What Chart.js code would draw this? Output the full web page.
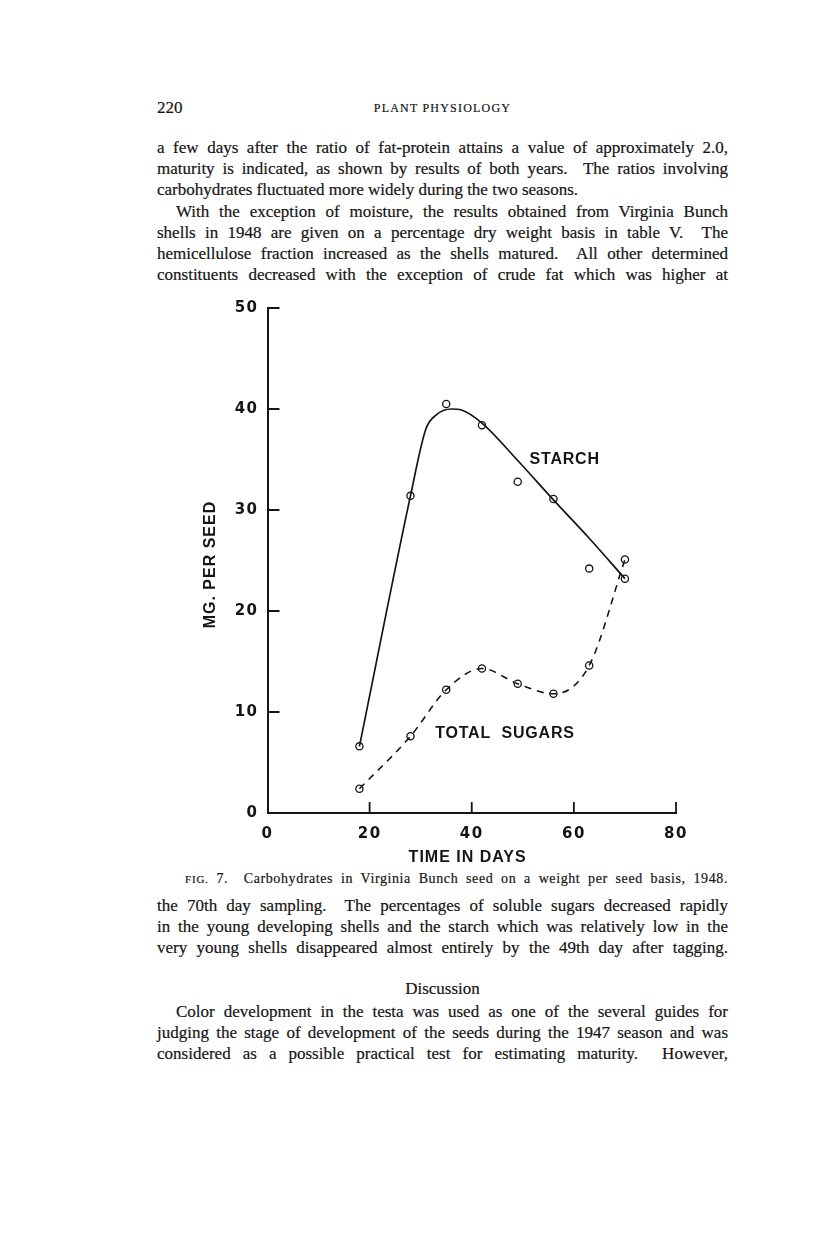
<!DOCTYPE html>
<html>
<head>
<meta charset="utf-8">
<title>Fig. 7 - Carbohydrates in Virginia Bunch seed</title>
<script src="https://cdn.jsdelivr.net/npm/chart.js@4.4.1/dist/chart.umd.min.js"></script>
<style>
  html, body { margin: 0; padding: 0; background: #fff; }
  body {
    width: 816px; height: 1249px; position: relative; overflow: hidden;
    font-family: "Liberation Serif", "DejaVu Serif", serif; color: #151515;
    -webkit-text-stroke: 0.2px #151515;
  }
  .ln {
    position: absolute; left: 157px; width: 571px;
    font-size: 17px; line-height: 21px; white-space: nowrap;
    text-align: justify; text-align-last: justify;
  }
  .ln.last { text-align-last: left; }
  .ln.ind { left: 176px; width: 552px; }
  .folio { position: absolute; left: 157px; top: 97px; font-size: 17px; line-height: 21px; }
  .runhead {
    position: absolute; left: 157px; width: 571px; top: 98px; text-align: center;
    font-size: 12px; letter-spacing: 1.2px; line-height: 21px;
  }
  .caption {
    position: absolute; left: 185px; width: 543px; top: 870px;
    font-size: 14px; letter-spacing: 0.6px; line-height: 18px; white-space: nowrap;
    text-align: justify; text-align-last: justify;
  }
  .sc { font-size: 11px; letter-spacing: 0.8px; }
  .heading { position: absolute; left: 157px; width: 571px; text-align: center; font-size: 17px; line-height: 21px; }
  #chartBox { position: absolute; left: 150px; top: 290px; width: 560px; height: 580px; }
</style>
</head>
<body>

<div class="folio">220</div>
<div class="runhead">PLANT PHYSIOLOGY</div>

<div class="ln" style="top:137px">a few days after the ratio of fat-protein attains a value of approximately 2.0,</div>
<div class="ln" style="top:158px">maturity is indicated, as shown by results of both years.&nbsp; The ratios involving</div>
<div class="ln last" style="top:179px">carbohydrates fluctuated more widely during the two seasons.</div>
<div class="ln ind" style="top:201px">With the exception of moisture, the results obtained from Virginia Bunch</div>
<div class="ln" style="top:222px">shells in 1948 are given on a percentage dry weight basis in table V.&nbsp; The</div>
<div class="ln" style="top:243px">hemicellulose fraction increased as the shells matured.&nbsp; All other determined</div>
<div class="ln" style="top:264px">constituents decreased with the exception of crude fat which was higher at</div>

<div id="chartBox"><canvas id="carbChart"></canvas></div>

<div class="caption"><span class="sc">FIG.</span> 7.&nbsp; Carbohydrates in Virginia Bunch seed on a weight per seed basis, 1948.</div>

<div class="ln" style="top:895px">the 70th day sampling.&nbsp; The percentages of soluble sugars decreased rapidly</div>
<div class="ln" style="top:916px">in the young developing shells and the starch which was relatively low in the</div>
<div class="ln" style="top:937px">very young shells disappeared almost entirely by the 49th day after tagging.</div>
<div class="heading" style="top:978px">Discussion</div>
<div class="ln ind" style="top:1001px">Color development in the testa was used as one of the several guides for</div>
<div class="ln" style="top:1022px">judging the stage of development of the seeds during the 1947 season and was</div>
<div class="ln" style="top:1043px">considered as a possible practical test for estimating maturity.&nbsp; However,</div>

<script>
// ---- data ----
const days = [18, 28, 35, 42, 49, 56, 63, 70];
const starchMg = [6.6, 31.4, 40.5, 38.4, 32.8, 31.1, 24.2, 23.2];
const sugarsMg = [2.4, 7.6, 12.2, 14.3, 12.8, 11.8, 14.6, 25.1];

// the starch line is a hand drawn fit, not point to point
const starchCurveDays = [18, 28, 31, 33, 36, 38, 42, 49, 56, 63, 70];
const starchCurveMg = [6.6, 31.4, 38.0, 39.4, 40.0, 39.9, 38.6, 34.9, 31.0, 27.2, 23.2];

const xTicks = [0, 20, 40, 60, 80];
const yTicks = [0, 10, 20, 30, 40, 50];

const INK = '#151515';
const LETTER_FONT = '"Liberation Sans", "DejaVu Sans", sans-serif';

function pairs(xs, ys) {
  return xs.map(function(x, i) { return { x: x, y: ys[i] }; });
}

// ticks point inward, and the curve labels sit inside the plot
const paperAxes = {
  id: 'paperAxes',
  beforeDraw: function(chart) {
    chart.ctx.letterSpacing = '1.5px';
  },
  afterDraw: function(chart) {
    const ctx = chart.ctx;
    const area = chart.chartArea;
    const xs = chart.scales.x;
    const ys = chart.scales.y;

    ctx.save();
    ctx.strokeStyle = INK;
    ctx.lineWidth = 1.8;
    ctx.beginPath();
    yTicks.forEach(function(v) {
      if (v === 0) return;
      const py = ys.getPixelForValue(v);
      ctx.moveTo(area.left, py);
      ctx.lineTo(area.left + 12, py);
    });
    xTicks.forEach(function(v) {
      if (v === 0) return;
      const px = xs.getPixelForValue(v);
      ctx.moveTo(px, area.bottom);
      ctx.lineTo(px, area.bottom - 11);
    });
    ctx.stroke();

    ctx.fillStyle = INK;
    ctx.textAlign = 'center';
    ctx.textBaseline = 'middle';
    ctx.letterSpacing = '0.8px';
    ctx.font = 'bold 16px ' + LETTER_FONT;
    ctx.fillText('STARCH', xs.getPixelForValue(58.2), ys.getPixelForValue(35));
    ctx.fillText('TOTAL  SUGARS', xs.getPixelForValue(46.5), ys.getPixelForValue(7.9));

    ctx.letterSpacing = '1px';
    ctx.fillText('TIME IN DAYS', xs.getPixelForValue(39.2), area.bottom + 45);

    ctx.translate(area.left - 57, ys.getPixelForValue(24.6));
    ctx.rotate(-Math.PI / 2);
    ctx.fillText('MG. PER SEED', 0, 0);
    ctx.restore();
  }
};

const tickFont = { family: '"DejaVu Sans", sans-serif', size: 15, weight: 'bold' };

new Chart(document.getElementById('carbChart'), {
  type: 'line',
  data: {
    datasets: [
      {
        label: 'Starch',
        data: pairs(starchCurveDays, starchCurveMg),
        borderColor: INK,
        borderWidth: 1.7,
        pointRadius: 0,
        cubicInterpolationMode: 'monotone',
        fill: false
      },
      {
        label: 'Starch samples',
        data: pairs(days, starchMg),
        showLine: false,
        pointRadius: 3.6,
        pointBorderWidth: 1.3,
        pointBorderColor: INK,
        pointBackgroundColor: 'rgba(0,0,0,0)'
      },
      {
        label: 'Total sugars',
        data: pairs(days, sugarsMg),
        borderColor: INK,
        borderWidth: 1.6,
        borderDash: [7, 6],
        cubicInterpolationMode: 'monotone',
        pointRadius: 3.6,
        pointBorderWidth: 1.3,
        pointBorderColor: INK,
        pointBackgroundColor: 'rgba(0,0,0,0)',
        fill: false
      }
    ]
  },
  options: {
    responsive: true,
    maintainAspectRatio: false,
    animation: false,
    layout: {
      autoPadding: false,
      padding: { left: 0, top: 14, right: 34, bottom: 0 }
    },
    plugins: {
      legend: { display: false },
      tooltip: { enabled: false }
    },
    scales: {
      x: {
        type: 'linear',
        min: 0,
        max: 80,
        afterBuildTicks: function(scale) {
          scale.ticks = xTicks.map(function(v) { return { value: v }; });
        },
        afterFit: function(scale) { scale.height = 57; },
        grid: { display: false, drawTicks: false },
        border: { display: true, color: INK, width: 2 },
        ticks: { color: INK, font: tickFont, padding: 12, maxRotation: 0 }
      },
      y: {
        type: 'linear',
        min: 0,
        max: 50,
        afterBuildTicks: function(scale) {
          scale.ticks = yTicks.map(function(v) { return { value: v }; });
        },
        afterFit: function(scale) { scale.width = 117.5; },
        grid: { display: false, drawTicks: false },
        border: { display: true, color: INK, width: 2 },
        ticks: { color: INK, font: tickFont, padding: 9 }
      }
    }
  },
  plugins: [paperAxes]
});
</script>
</body>
</html>
